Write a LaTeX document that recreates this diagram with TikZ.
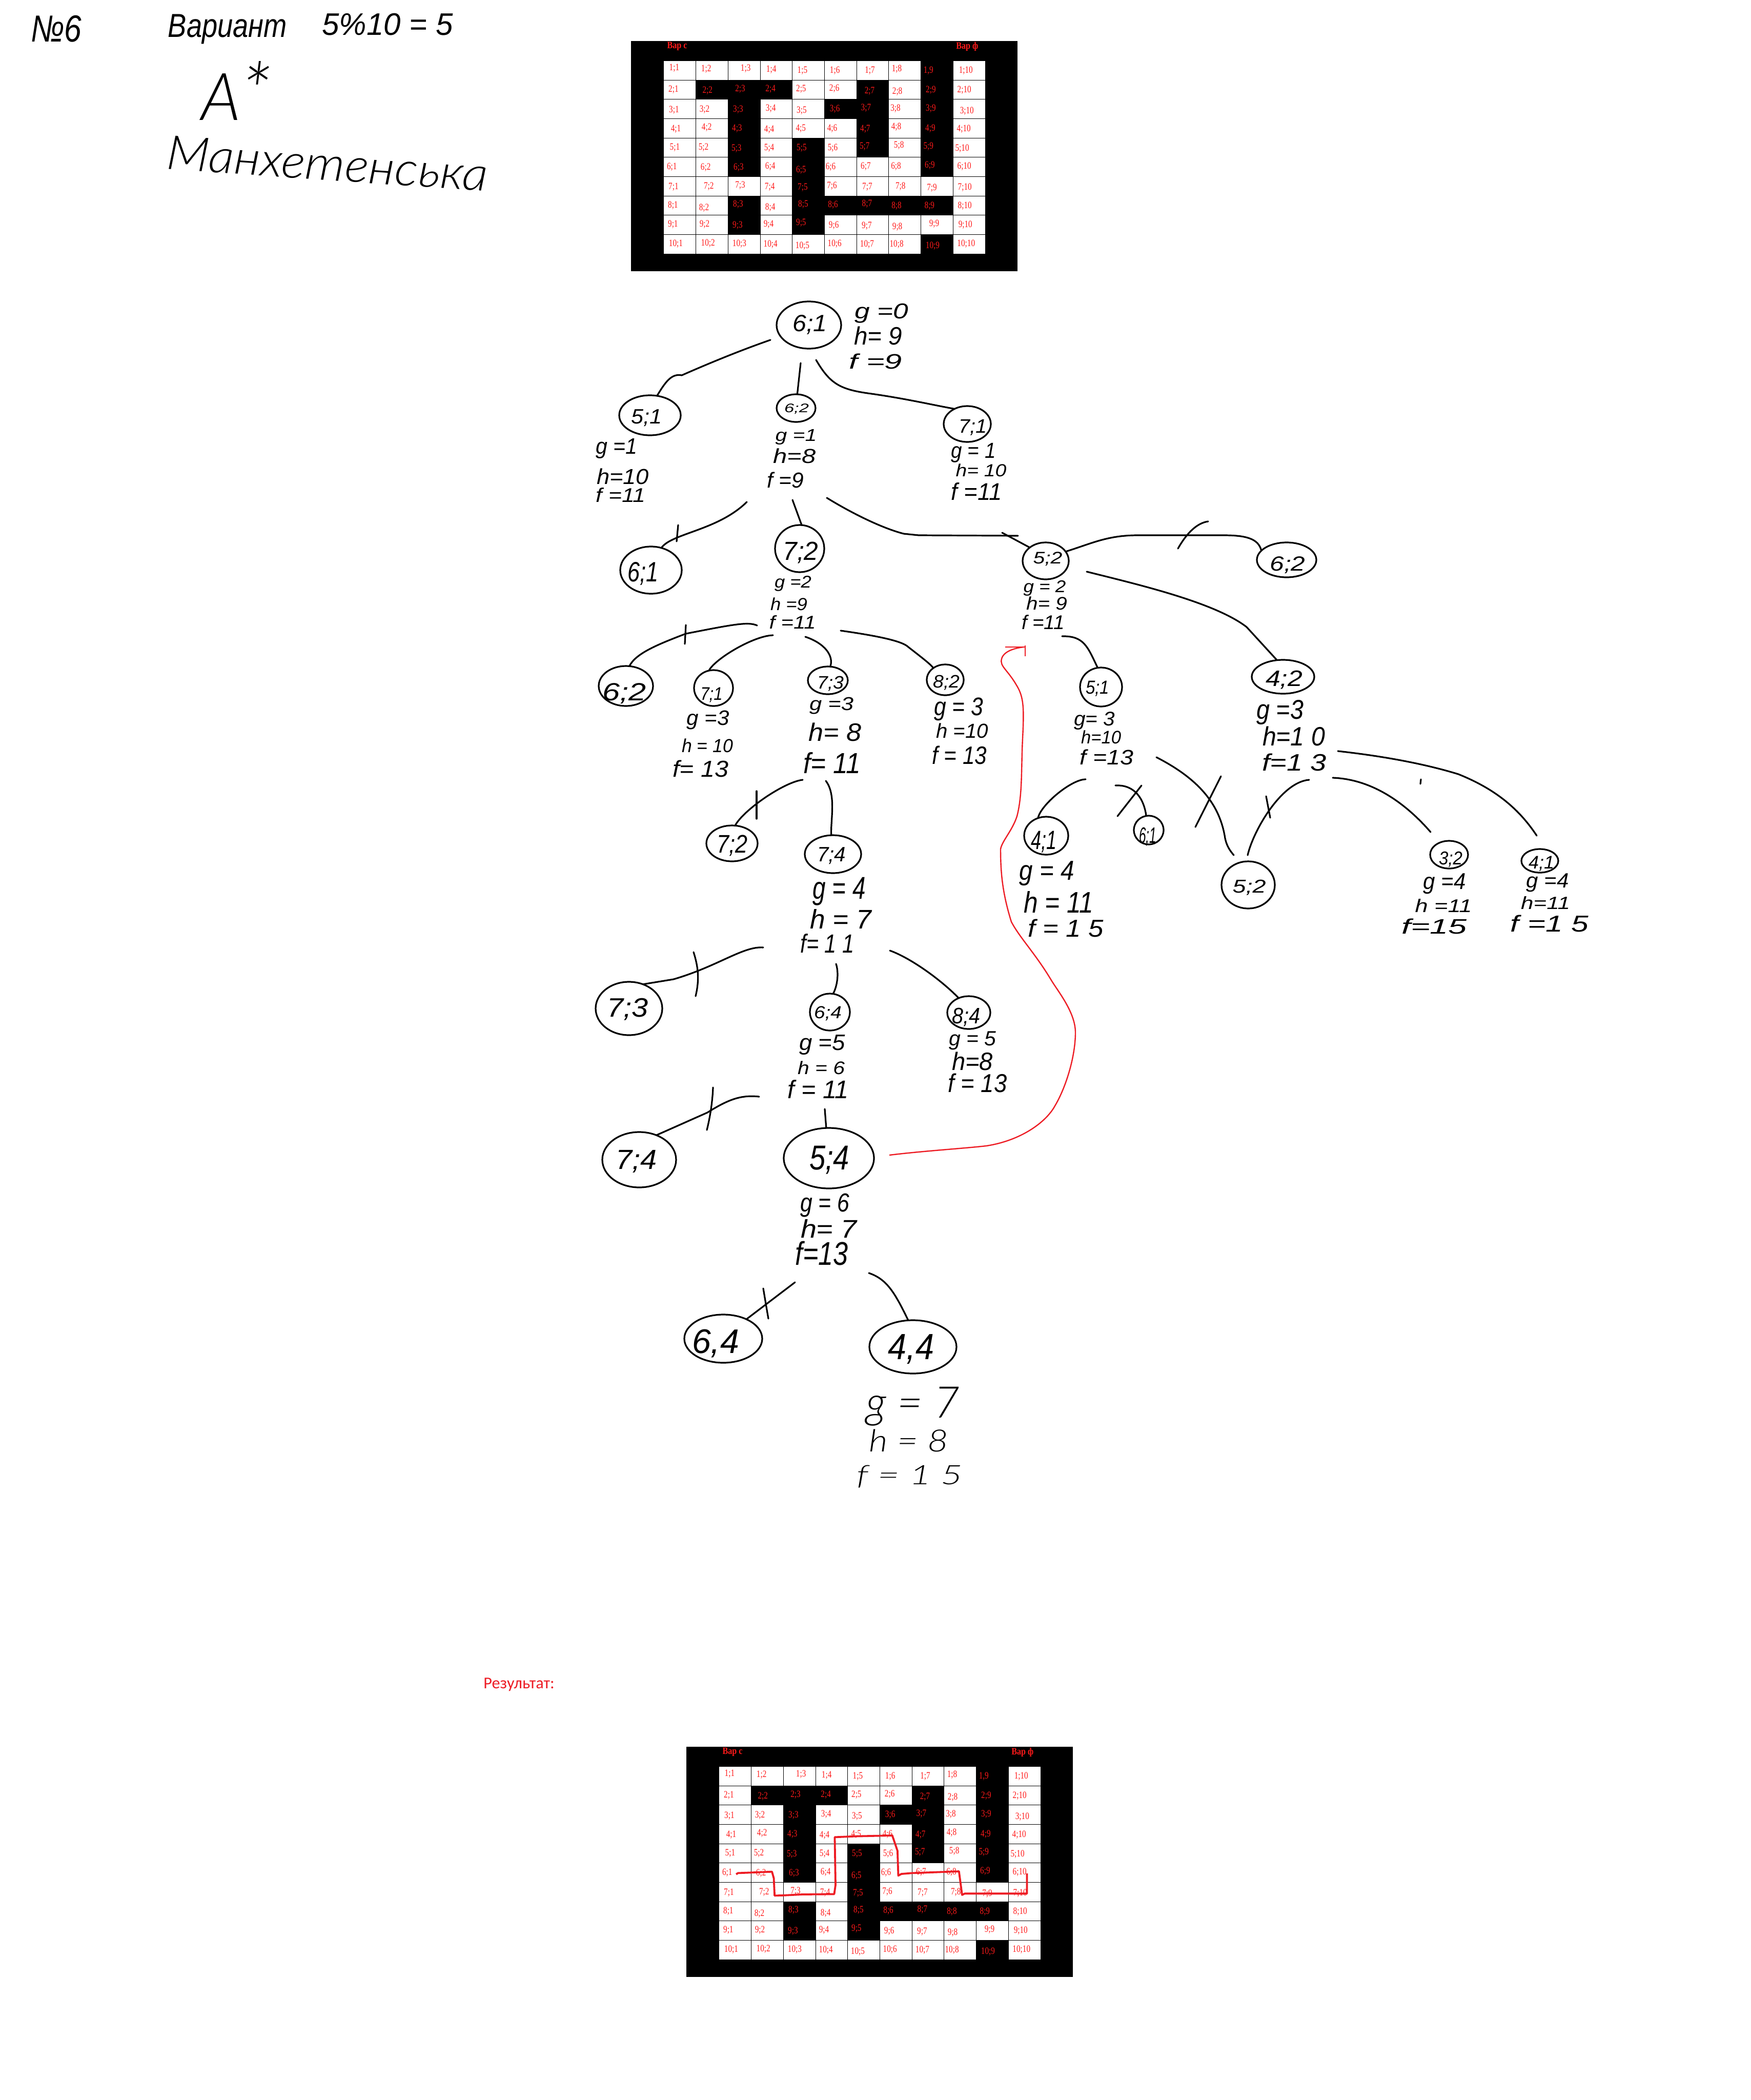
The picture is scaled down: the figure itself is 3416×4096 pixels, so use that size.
\documentclass[tikz,border=0pt]{standalone}
\usepackage{fontspec}
\usepackage{graphicx}
\setmainfont{Liberation Sans}
\newfontfamily\mazefont{Liberation Serif}
\newfontfamily\resfont{Carlito}
\newfontfamily\thinhand{Lato}[UprightFont=* Light,ItalicFont=* Light Italic]
\usetikzlibrary{shapes.geometric}
\definecolor{pred}{HTML}{ED1C24}
\definecolor{lred}{HTML}{FF1A1A}
\newlength\unitpx
\setlength\unitpx{0.5pt}
\tikzset{
  conn/.style={line width=1.6pt,black,line cap=round,line join=round},
  crossmark/.style={line width=1.6pt,black,line cap=round,line join=round},
  blobnode/.style={draw=black,line width=1.6pt,shape=ellipse,inner sep=0pt,outer sep=0pt},
  redline/.style={line width=1.2pt,pred,line join=round},
  hand/.style={inner sep=0pt,outer sep=0pt,black},
  cell/.style={inner sep=0pt,outer sep=0pt,text=lred,font=\mazefont}
}
% hand text: name, x,y, width, height, text
\newcommand{\hw}[5]{\node[hand] (#1) at (#2) {\resizebox*{#3\unitpx}{#4\unitpx}{\itshape #5}};}
\newcommand{\hwt}[5]{\node[hand] (#1) at (#2) {\resizebox*{#3\unitpx}{#4\unitpx}{\thinhand\itshape #5}};}
% state: name, x,y, rx, ry, dx, dy, text width, text height, text
\newcommand{\blob}[9]{\node[blobnode,minimum width=#3pt,minimum height=#4pt] (#1) at (#2)
  {\makebox[0pt][c]{\kern #5\unitpx\kern #5\unitpx\raisebox{\dimexpr -#6\unitpx - #8\unitpx/2\relax}[0pt][0pt]{\resizebox*{#7\unitpx}{#8\unitpx}{\itshape #9}}}};}
\def\mazelabels{1;1/187/218,1;2/309/224,1;3/460/221,1;4/558/227,1;5/677/233,1;6/801/233,1;7/935/233,1;8/1038/224,{1,9}/1159/233,1;10/1302/233,
2;1/184/344,2;2/314/350,2;3/439/341,2;4/555/341,2;5/672/341,2;6/799/338,2;7/934/353,2;8/1040/356,2;9/1168/347,2;10/1296/347,
3;1/186/464,3;2/303/461,3;3/431/461,3;4/556/455,3;5/674/467,3;6/801/458,3;7/920/452,3;8/1033/455,3;9/1168/455,3;10/1306/470,
4;1/193/575,4;2/311/566,4;3/427/572,4;4/550/578,4;5/671/572,4;6/791/572,4;7/917/575,4;8/1036/563,4;9/1166/572,4;10/1294/575,
5;1/189/683,5;2/299/683,5;3/425/689,5;4/550/686,5;5/674/686,5;6/793/686,5;7/915/677,5;8/1046/671,5;9/1159/677,5;10/1288/689,
6;1/178/797,6;2/307/800,6;3/433/800,6;4/554/794,6;5/672/815,6;6/785/797,6;7/919/794,6;8/1035/794,6;9/1164/788,6;10/1296/794,
7;1/184/914,7;2/319/911,7;3/439/905,7;4/552/914,7;5/678/917,7;6/790/908,7;7/925/914,7;8/1052/911,7;9/1172/920,7;10/1298/917,
8;1/182/1022,8;2/301/1037,8;3/431/1016,8;4/554/1034,8;5/680/1016,8;6/794/1019,8;7/924/1013,8;8/1037/1025,8;9/1163/1025,8;10/1298/1025,
9;1/182/1133,9;2/303/1133,9;3/429/1139,9;4/548/1133,9;5/672/1124,9;6/797/1139,9;7/923/1142,9;8/1040/1148,9;9/1181/1130,9;10/1300/1136,
10;1/193/1247,10;2/316/1244,10;3/436/1247,10;4/555/1250,10;5/677/1259,10;6/800/1247,10;7/924/1250,10;8/1037/1250,10;9/1175/1259,10;10/1303/1247}
\newcommand{\mazebody}[1]{%
  \fill[black] (22,60) rectangle (1499,1407);
  \fill[white] (147,177) rectangle (1376,1305);
  \foreach \cx in {269,393,516,638,761,885,1006,1129,1253} \draw[black,line width=0.5pt] (\cx,177) -- (\cx,1305);
  \foreach \ry in {289,401,514,628,739,853,967,1078,1192} \draw[black,line width=0.5pt] (147,\ry) -- (1376,\ry);
  \foreach \xa/\ya/\xb/\yb in {269/289/638/401,393/401/516/853,885/289/1006/739,761/401/885/514,1129/177/1253/853,638/628/761/1192,638/967/1253/1078,393/967/516/1192,1129/1192/1253/1305}
    \fill[black] (\xa,\ya) rectangle (\xb,\yb);
  \node[cell,font=\mazefont\bfseries\fontsize{9.5}{9.5}\selectfont] (#1varc) at (198,92) {\scalebox{0.85}[1]{Вар с}};
  \node[cell,font=\mazefont\bfseries\fontsize{9.5}{9.5}\selectfont] (#1varf) at (1307,92) {\scalebox{0.85}[1]{Вар ф}};
  \foreach \lb/\lx/\ly [count=\li] in \mazelabels
    \node[cell,font=\mazefont\fontsize{9.5}{9.5}\selectfont] (#1c\li) at (\lx,\ly) {\scalebox{0.8}[1]{\lb}};
}
\begin{document}
\begin{tikzpicture}[x=0.5pt,y=-0.5pt]
\useasboundingbox (0,0) rectangle (3416,4096);
\fill[white] (0,0) rectangle (3416,4096);

% header
\hw{hnum}{110,56}{99}{52}{№6}
\hw{hvar}{444,57}{232}{58}{Вариант}
\hw{hmod}{756,48}{255}{43}{5\%10 = 5}
\hwt{hastar}{461,177}{137}{115}{A{\large *}}
\node[hand,rotate=-4] (hmanh) at (639,319) {\resizebox*{628\unitpx}{66\unitpx}{\thinhand\itshape Манхетенська}};

% mazes
\begin{scope}[shift={(1220,60)},x=0.2551pt,y=-0.16667pt]
\mazebody{a}
\end{scope}
\begin{scope}[shift={(1328,3387)},x=0.2551pt,y=-0.16667pt]
\mazebody{b}
\end{scope}
\begin{scope}[shift={(1330,3410)},x=0.2551pt,y=-0.16667pt]
\draw[line width=1.9pt,pred,line join=round] (208,737) -- (215,730) -- (345,722) -- (352,760) -- (355,862) -- (395,860) -- (460,855) -- (583,853) -- (588,800) -- (585,520) -- (660,515) -- (805,510) -- (825,600) -- (828,745) -- (840,735) -- (880,730) -- (1060,720) -- (1072,858) -- (1082,850) -- (1320,850) -- (1320,732);
\end{scope}
\node[anchor=base west,inner sep=0pt,text=pred,font=\resfont\fontsize{16.1}{16.1}\selectfont] (result) at (943,3293) {Результат:};

% states
\blob{n61}{1578,634}{63}{46}{2}{-7}{67}{38}{6;1}
\blob{n51}{1268,810}{60}{39}{-7}{0}{60}{33}{5;1}
\blob{n62}{1553,796}{38}{27}{1}{-2}{48}{20}{6;2}
\blob{n71}{1887,827}{46}{35}{11}{2}{55}{31}{7;1}
\blob{n61b}{1270,1112}{60}{46}{-16}{0}{60}{45}{6;1}
\blob{n72}{1560,1070}{48}{46}{2}{1}{69}{42}{7;2}
\blob{n52}{2040,1094}{45}{36}{4}{-8}{57}{27}{5;2}
\blob{n62r}{2510,1092}{58}{34}{2}{5}{69}{33}{6;2}
\blob{n42}{2503,1320}{61}{33}{2}{0}{72}{36}{4;2}
\blob{n51r}{2148,1340}{41}{38}{-7}{-2}{46}{30}{5;1}
\blob{n41}{2041,1630}{43}{37}{-5}{5}{50}{42}{4;1}
\blob{n61c}{2241,1619}{29}{28}{-2}{7}{34}{36}{6;1}
\blob{n52c}{2435,1726}{52}{46}{2}{0}{65}{30}{5;2}
\blob{n32}{2827,1667}{37}{27}{3}{4}{46}{30}{3;2}
\blob{n41b}{3004,1679}{36}{23}{3}{1}{50}{29}{4;1}
\blob{n62b}{1221,1338}{53}{39}{-3}{8}{85}{40}{6;2}
\blob{n71b}{1392,1342}{38}{35}{-4}{9}{43}{29}{7;1}
\blob{n73}{1615,1327}{39}{27}{5}{2}{52}{29}{7;3}
\blob{n82}{1844,1326}{36}{30}{2}{1}{52}{29}{8;2}
\blob{n72b}{1428,1645}{50}{35}{0}{-2}{60}{41}{7;2}
\blob{n74}{1625,1666}{55}{37}{-3}{-2}{56}{33}{7;4}
\blob{n73b}{1227,1967}{65}{52}{-3}{-5}{80}{43}{7;3}
\blob{n64}{1619,1974}{39}{36}{-4}{-2}{54}{28}{6;4}
\blob{n84}{1890,1975}{42}{32}{-5}{3}{55}{36}{8;4}
\blob{n74b}{1247,2262}{72}{54}{-6}{-4}{80}{44}{7;4}
\blob{n54}{1617,2259}{88}{59}{1}{-5}{78}{55}{5;4}
\blob{n64b}{1411,2611}{76}{47}{-15}{1}{92}{55}{6,4}
\blob{n44}{1781,2627}{85}{52}{-4}{-5}{90}{58}{4,4}

% value stacks
\hw{l61g}{1720,611}{105}{38}{g =0}
\hw{l61h}{1713,655}{94}{36}{h= 9}
\hw{l61f}{1708,705}{104}{30}{f =9}
\hw{l51g}{1203,875}{81}{39}{g =1}
\hw{l51h}{1215,929}{102}{31}{h=10}
\hw{l51f}{1211,965}{97}{28}{f =11}
\hw{l62g}{1553,852}{81}{30}{g =1}
\hw{l62h}{1550,889}{83}{29}{h=8}
\hw{l62f}{1532,936}{72}{31}{f =9}
\hw{l71g}{1899,883}{87}{38}{g = 1}
\hw{l71h}{1914,917}{99}{25}{h= 10}
\hw{l71f}{1905,958}{99}{34}{f =11}
\hw{l72g}{1547,1138}{72}{30}{g =2}
\hw{l72h}{1539,1178}{72}{25}{h =9}
\hw{l72f}{1546,1213}{91}{26}{f =11}
\hw{l52g}{2038,1147}{83}{30}{g = 2}
\hw{l52h}{2042,1177}{80}{26}{h= 9}
\hw{l52f}{2035,1213}{84}{28}{f =11}
\hw{l42g}{2497,1389}{92}{48}{g =3}
\hw{l42h}{2524,1436}{122}{38}{h=1 0}
\hw{l42f}{2525,1487}{126}{34}{f=1 3}
\hw{l51rg}{2135,1406}{80}{35}{g= 3}
\hw{l51rh}{2148,1438}{78}{26}{h=10}
\hw{l51rf}{2159,1477}{105}{30}{f =13}
\hw{l41g}{2042,1704}{107}{48}{g = 4}
\hw{l41h}{2065,1759}{136}{42}{h = 11}
\hw{l41f}{2079,1810}{148}{35}{f = 1 5}
\hw{l32g}{2818,1724}{83}{40}{g =4}
\hw{l32h}{2816,1766}{111}{26}{h =11}
\hw{l32f}{2798,1807}{128}{30}{f=15}
\hw{l41bg}{3019,1722}{83}{36}{g =4}
\hw{l41bh}{3015,1761}{96}{25}{h=11}
\hw{l41bf}{3023,1801}{153}{33}{f =1 5}
\hw{l71bg}{1381,1404}{83}{37}{g =3}
\hw{l71bh}{1380,1454}{100}{27}{h = 10}
\hw{l71bf}{1367,1499}{109}{33}{f= 13}
\hw{l73g}{1622,1377}{86}{33}{g =3}
\hw{l73h}{1629,1428}{103}{36}{h= 8}
\hw{l73f}{1623,1488}{112}{41}{f= 11}
\hw{l82g}{1870,1383}{96}{45}{g = 3}
\hw{l82h}{1877,1425}{102}{29}{h =10}
\hw{l82f}{1872,1473}{107}{36}{f = 13}
\hw{l74g}{1637,1739}{103}{55}{g = 4}
\hw{l74h}{1640,1792}{120}{38}{h = 7}
\hw{l74f}{1614,1840}{105}{37}{f= 1 1}
\hw{l64g}{1604,2038}{90}{39}{g =5}
\hw{l64h}{1602,2083}{92}{26}{h = 6}
\hw{l64f}{1596,2124}{119}{36}{f = 11}
\hw{l84g}{1897,2030}{92}{36}{g = 5}
\hw{l84h}{1897,2070}{80}{36}{h=8}
\hw{l84f}{1907,2112}{115}{37}{f = 13}
\hw{l54g}{1609,2351}{96}{46}{g = 6}
\hw{l54h}{1617,2396}{110}{36}{h= 7}
\hw{l54f}{1603,2445}{103}{47}{f=13}
\hwt{l44g}{1781,2743}{183}{76}{g = 7}
\hwt{l44h}{1773,2810}{154}{44}{h = 8}
\hwt{l44f}{1775,2880}{207}{44}{f = 1 5}

% connector free ends
\coordinate (s1) at (1503,663);
\coordinate (s2) at (1562,708);
\coordinate (s3) at (1592,702);
\coordinate (s4) at (1457,979);
\coordinate (s5) at (1546,975);
\coordinate (s6) at (1613,971);
\coordinate (e6) at (1986,1045);
\coordinate (s6b) at (1955,1039);
\coordinate (s8) at (2120,1115);
\coordinate (s9) at (2072,1241);
\coordinate (s10) at (2118,1520);
\coordinate (s11) at (2176,1532);
\coordinate (s12) at (2256,1477);
\coordinate (e12) at (2407,1668);
\coordinate (s13) at (2554,1521);
\coordinate (e13) at (2434,1668);
\coordinate (s14) at (2600,1517);
\coordinate (e14) at (2791,1623);
\coordinate (s15) at (2610,1465);
\coordinate (e15) at (2998,1630);
\coordinate (s16) at (1477,1220);
\coordinate (s17) at (1508,1239);
\coordinate (s18) at (1571,1242);
\coordinate (s19) at (1640,1230);
\coordinate (s20) at (1566,1521);
\coordinate (s21) at (1611,1523);
\coordinate (s22) at (1489,1848);
\coordinate (s23) at (1631,1880);
\coordinate (s24) at (1736,1854);
\coordinate (s25) at (1481,2139);
\coordinate (s26) at (1609,2163);
\coordinate (s28) at (1551,2501);
\coordinate (s29) at (1695,2483);
\coordinate (r1) at (1735,2253);
\coordinate (r2) at (1997,1262);

% connectors
\draw[conn] (s1) .. controls (1440,685) and (1380,710) .. (1330,732) .. controls (1310,728) and (1298,745) .. (n51.70);
\draw[conn] (s2) -- (n62.85);
\draw[conn] (s3) .. controls (1620,750) and (1640,760) .. (1700,768) .. controls (1770,778) and (1820,790) .. (n71.130);
\draw[conn] (s4) .. controls (1400,1035) and (1310,1040) .. (n61b.65);
\draw[conn] (s5) -- (n72.85);
\draw[conn] (s6) .. controls (1660,1000) and (1720,1030) .. (1763,1041) -- (1792,1044) -- (e6);
\draw[conn] (s6b) -- (n52.140);
\draw[conn] (n52.25) .. controls (2130,1060) and (2160,1044) .. (2220,1044) -- (2386,1044) .. controls (2430,1044) and (2455,1050) .. (n62r.160);
\draw[conn] (s8) .. controls (2220,1140) and (2370,1175) .. (2432,1223) -- (n42.110);
\draw[conn] (s9) .. controls (2115,1240) and (2122,1262) .. (n51r.100);
\draw[conn] (s10) .. controls (2090,1520) and (2030,1570) .. (n41.115);
\draw[conn] (s11) .. controls (2215,1530) and (2232,1560) .. (n61c.100);
\draw[conn] (s12) .. controls (2340,1520) and (2380,1570) .. (2390,1635) .. controls (2393,1650) and (2400,1660) .. (e12);
\draw[conn] (s13) .. controls (2500,1525) and (2445,1620) .. (e13);
\draw[conn] (s14) .. controls (2680,1520) and (2745,1570) .. (e14);
\draw[conn] (s15) .. controls (2700,1475) and (2780,1490) .. (2845,1510) .. controls (2920,1540) and (2965,1580) .. (e15);
\draw[conn] (s16) .. controls (1460,1212) and (1430,1218) .. (1338,1236) .. controls (1280,1258) and (1240,1275) .. (n62b.80);
\draw[conn] (s17) .. controls (1470,1240) and (1395,1285) .. (n71b.105);
\draw[conn] (s18) .. controls (1610,1255) and (1627,1280) .. (n73.80);
\draw[conn] (s19) .. controls (1710,1240) and (1760,1250) .. (1772,1262) .. controls (1795,1280) and (1815,1295) .. (n82.135);
\draw[conn] (s20) .. controls (1530,1525) and (1450,1580) .. (n72b.80);
\draw[conn] (s21) .. controls (1632,1550) and (1620,1600) .. (n74.95);
\draw[conn] (s22) .. controls (1450,1845) and (1400,1885) .. (1314,1910) -- (n73b.60);
\draw[conn] (s23) .. controls (1636,1895) and (1635,1920) .. (n64.80);
\draw[conn] (s24) .. controls (1780,1870) and (1840,1915) .. (n84.125);
\draw[conn] (s25) .. controls (1445,2135) and (1420,2145) .. (1380,2170) -- (n74b.55);
\draw[conn] (s26) -- (n54.95);
\draw[conn] (s28) -- (n64b.40);
\draw[conn] (s29) .. controls (1730,2495) and (1745,2520) .. (n44.100);

% crossings-out
\draw[crossmark] (1323,1024) -- (1320,1056);
\draw[crossmark] (2298,1070) .. controls (2315,1040) and (2335,1020) .. (2357,1017);
\draw[crossmark] (2227,1532) -- (2180,1592);
\draw[crossmark] (2382,1514) -- (2332,1613);
\draw[crossmark] (2470,1553) -- (2478,1595);
\draw[crossmark] (2772,1520) -- (2771,1529);
\draw[crossmark] (1338,1219) -- (1336,1256);
\draw[crossmark] (1476,1543) -- (1476,1597);
\draw[crossmark] (1353,1857) .. controls (1362,1885) and (1365,1910) .. (1357,1943);
\draw[crossmark] (1391,2121) .. controls (1390,2150) and (1385,2180) .. (1379,2204);
\draw[crossmark] (1489,2513) -- (1494,2543) -- (1499,2572);

% red return arrow
\draw[redline] (r1) .. controls (1800,2245) and (1880,2240) .. (1924,2235) .. controls (1990,2225) and (2040,2190) .. (2058,2157) .. controls (2080,2120) and (2098,2060) .. (2098,2014) .. controls (2098,1975) and (2065,1935) .. (2051,1912) .. controls (2020,1860) and (1990,1830) .. (1973,1798) .. controls (1955,1740) and (1952,1700) .. (1952,1656) .. controls (1955,1640) and (1975,1620) .. (1984,1592) .. controls (1995,1550) and (1992,1500) .. (1995,1440) .. controls (1998,1380) and (1997,1360) .. (1984,1338) .. controls (1965,1305) and (1950,1300) .. (1954,1285) .. controls (1958,1270) and (1980,1264) .. (r2);
\draw[redline] (1961,1262) -- (2000,1262);
\draw[redline] (2000,1259) -- (2000,1280);
\end{tikzpicture}
\end{document}
